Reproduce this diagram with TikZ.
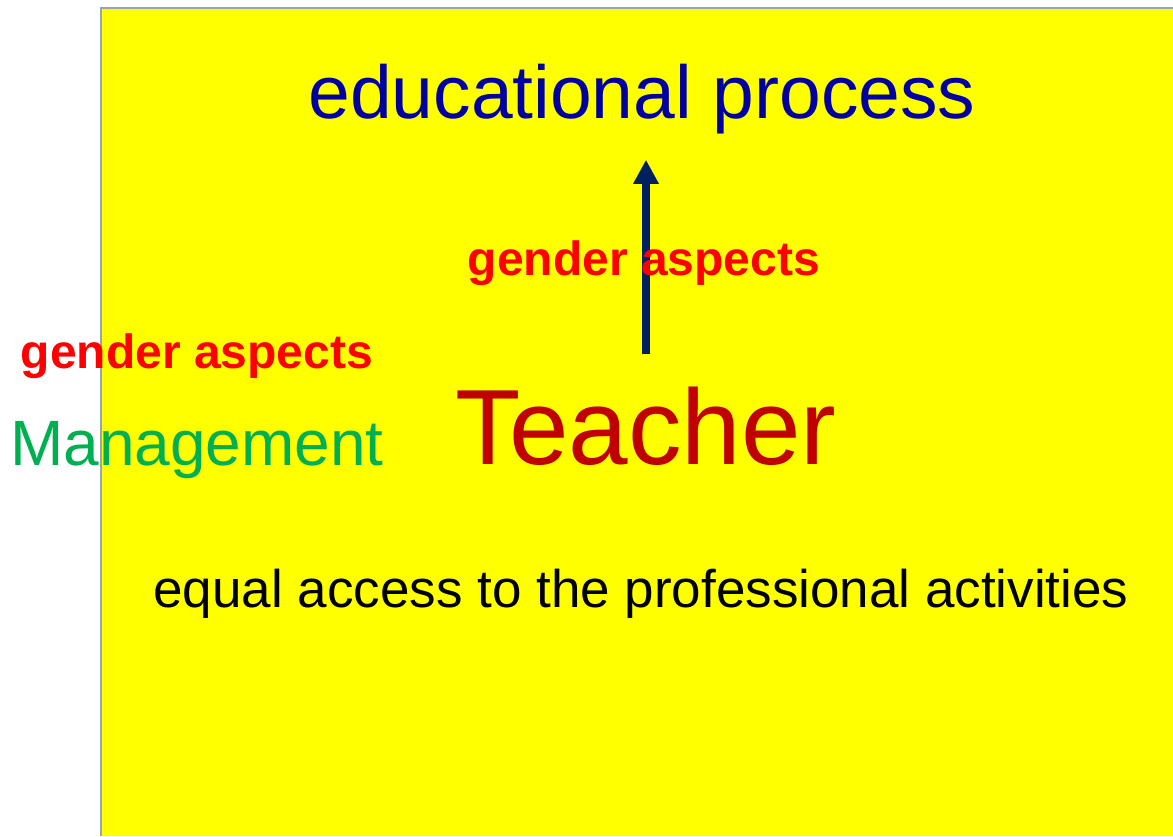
\documentclass[tikz,border=0pt]{standalone}
\usepackage{fontspec}
\setmainfont{Liberation Sans}
\usetikzlibrary{positioning,arrows.meta}

\definecolor{slideyellow}{RGB}{255,255,0}
\definecolor{slideframe}{RGB}{150,165,175}
\definecolor{procblue}{RGB}{0,0,160}
\definecolor{arrownavy}{RGB}{0,32,96}
\definecolor{teachred}{RGB}{192,0,0}
\definecolor{mgmtgreen}{RGB}{0,176,80}

\tikzset{
  txt/.style={inner sep=0pt,anchor=base},
  aspect/.style={txt,text=red,font=\fontsize{48}{52}\selectfont\bfseries},
}

\begin{document}
\begin{tikzpicture}[x=1pt,y=-1pt]
    \useasboundingbox (0,0) rectangle (1173,836);
    \fill[slideyellow] (101,8) rectangle (1173,836);
    \draw[slideframe,line width=2pt] (101,836) -- (101,8) -- (1173,8);

    \node[txt,text=procblue,font=\fontsize{75}{80}\selectfont] (edu) at (642,118) {educational process};
    \node[txt,text=teachred,font=\fontsize{107}{112}\selectfont] (teacher) at (646,464) {Teacher};
    \draw[arrownavy,line width=8pt,-{Triangle[width=24pt,length=24pt]},shorten <=32pt,shorten >=26pt]
       (teacher.north) -- (teacher.north |- edu.south);
    \node[aspect] (gendup) at (644,275) {gender aspects};
    \node[aspect] (gendleft) at (197,368) {gender aspects};
    \node[txt,text=mgmtgreen,font=\fontsize{64}{68}\selectfont] (mgmt) at (197,465) {Management};
    \node[txt,font=\fontsize{53}{58}\selectfont] (access) at (641,607) {equal access to the professional activities};
  \end{tikzpicture}
\end{document}
